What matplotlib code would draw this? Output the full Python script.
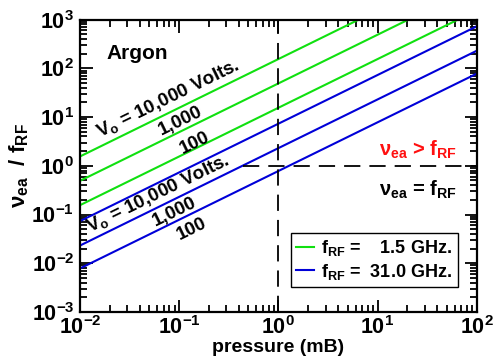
import matplotlib
matplotlib.use("Agg")
import matplotlib.pyplot as plt
from matplotlib.ticker import NullFormatter

plt.rcParams['font.family'] = ['Liberation Sans', 'DejaVu Sans']
plt.rcParams['font.weight'] = 'bold'
plt.rcParams['mathtext.fontset'] = 'custom'
plt.rcParams['mathtext.rm'] = 'Liberation Sans:bold'
plt.rcParams['mathtext.it'] = 'Liberation Sans:bold'
plt.rcParams['mathtext.bf'] = 'Liberation Sans:bold'

# pressure end points (mB) and nu_ea/f_RF read at those points
pressure = [0.01, 100]
green_10000 = [1.55, 15500]
green_1000 = [0.49, 4900]
green_100 = [0.155, 1550]
blue_10000 = [0.073, 730]
blue_1000 = [0.023, 230]
blue_100 = [0.0078, 78]

x_ticks = [1e-2, 1e-1, 1e0, 1e1, 1e2]
x_labels = ['$10^{-2}$', '$10^{-1}$', '$10^{0}$', '$10^{1}$', '$10^{2}$']
y_ticks = [1e-3, 1e-2, 1e-1, 1e0, 1e1, 1e2, 1e3]
y_labels = ['$10^{-3}$', '$10^{-2}$', '$10^{-1}$', '$10^{0}$', '$10^{1}$',
            '$10^{2}$', '$10^{3}$']

green = '#10e010'
blue = '#0000d8'

fig = plt.figure(figsize=(4.93, 3.64), dpi=100)
ax = fig.add_axes([0.162, 0.143, 0.805, 0.803])

ax.plot(pressure, green_10000, color=green, lw=1.5, label='f$_{RF}$ =    1.5 GHz.')
ax.plot(pressure, green_1000, color=green, lw=1.5)
ax.plot(pressure, green_100, color=green, lw=1.5)
ax.plot(pressure, blue_10000, color=blue, lw=1.5, label='f$_{RF}$ =  31.0 GHz.')
ax.plot(pressure, blue_1000, color=blue, lw=1.5)
ax.plot(pressure, blue_100, color=blue, lw=1.5)

# dashed guides at pressure = 1 and ratio = 1
ax.plot([1, 1], [1e-3, 1e3], color='black', lw=1.3, dashes=(9, 5))
ax.plot([0.44, 100], [1, 1], color='black', lw=1.3, dashes=(9, 5))

ax.set_xscale('log')
ax.set_yscale('log')
ax.set_xticks(x_ticks, x_labels)
ax.set_yticks(y_ticks, y_labels)
ax.set_xlim(1e-2, 1e2)
ax.set_ylim(1e-3, 1e3)
ax.xaxis.set_minor_formatter(NullFormatter())
ax.yaxis.set_minor_formatter(NullFormatter())

ax.tick_params(which='both', direction='in', top=True, right=True,
               labelsize=15.5, width=1.3)
ax.tick_params(axis='x', which='major', pad=3)
ax.tick_params(axis='y', which='major', pad=4)
ax.tick_params(which='major', length=9)
ax.tick_params(which='minor', length=5)
for s in ax.spines.values():
    s.set_linewidth(1.6)

ax.set_xlabel('pressure (mB)', fontsize=14, fontweight='bold', labelpad=0)
ax.set_ylabel('ν$_{ea}$  / f$_{RF}$', fontsize=16, fontweight='bold', labelpad=0)

ang = 26
ax.text(0.0187, 206, 'Argon', fontsize=15, fontweight='bold', va='center')
ax.text(0.077, 24.5, 'V$_o$ = 10,000 Volts.', fontsize=13.5, rotation=ang,
        ha='center', va='center', rotation_mode='anchor')
ax.text(0.104, 8.3, '1,000', fontsize=13.5, rotation=ang, ha='center', va='center',
        rotation_mode='anchor')
ax.text(0.144, 2.93, '100', fontsize=13.5, rotation=ang, ha='center', va='center',
        rotation_mode='anchor')
ax.text(0.061, 0.264, 'V$_o$ = 10,000 Volts.', fontsize=13.5, rotation=ang,
        ha='center', va='center', rotation_mode='anchor')
ax.text(0.0906, 0.112, '1,000', fontsize=13.5, rotation=ang, ha='center', va='center',
        rotation_mode='anchor')
ax.text(0.134, 0.0505, '100', fontsize=13.5, rotation=ang, ha='center', va='center',
        rotation_mode='anchor')

ax.text(25.5, 2.1, 'ν$_{ea}$ > f$_{RF}$', color='#ff1010', fontsize=14.5,
        ha='center', va='center')
ax.text(25.5, 0.32, 'ν$_{ea}$ = f$_{RF}$', color='black', fontsize=14.5,
        ha='center', va='center')

leg = ax.legend(loc='lower right', bbox_to_anchor=(0.952, 0.085), borderaxespad=0,
                fontsize=13, handlelength=1.0, handletextpad=0.4, fancybox=False,
                framealpha=1, edgecolor='black', borderpad=0.3, labelspacing=0.2)
leg.get_frame().set_linewidth(1.0)

fig.savefig('out.png', dpi=100)
